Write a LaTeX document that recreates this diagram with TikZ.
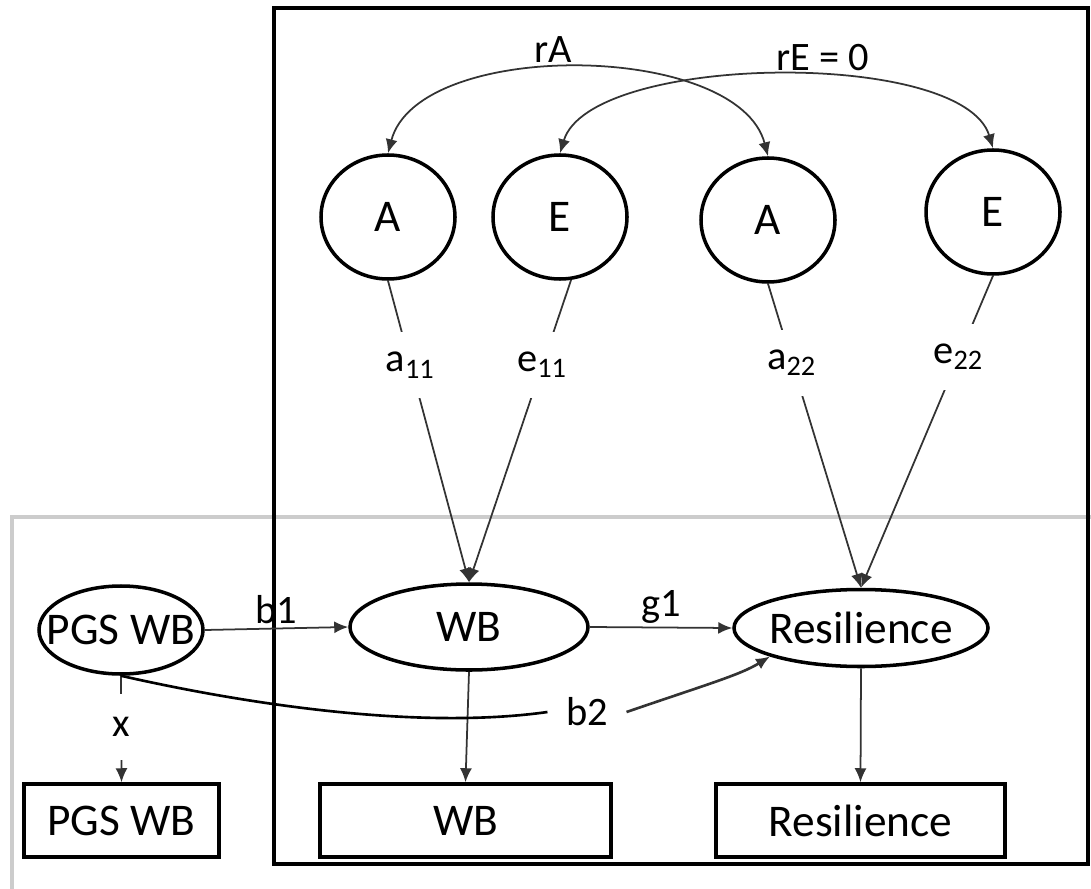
\documentclass[tikz,border=0pt]{standalone}
\usepackage{fontspec}
\setmainfont{Carlito}
\usetikzlibrary{positioning}
\usetikzlibrary{shapes.geometric}
\usetikzlibrary{arrows.meta}

\tikzset{
  latent/.style={draw, ellipse, line width=1pt, inner sep=0pt},
  ace/.style={latent, minimum width=1.34cm, minimum height=1.24cm},
  manifest/.style={draw, rectangle, line width=1pt, minimum height=0.73cm, inner sep=0pt},
  conn/.style={draw=black!80, line width=0.5pt, ->},
  coef/.style={fill=white, inner xsep=1pt, minimum height=6.6mm, font=\fontsize{11.5}{13}\selectfont},
  elab/.style={font=\fontsize{11.5}{13}\selectfont, inner sep=1pt},
}

\begin{document}
\begin{tikzpicture}[>={Latex[length=1.4mm,width=1.2mm]}, font=\fontsize{12.9}{15}\selectfont]
\useasboundingbox (0,0) rectangle (10.91,-8.89);
% frames
\draw[black!20, line width=0.9pt] (0.12,-8.89) -- (0.12,-5.17) -- (10.91,-5.17);
\draw[line width=1pt] (2.74,-0.08) rectangle (10.88,-8.64);

% ACE factors
\node[ace] (A1) at (3.88,-2.17) {A};
\node[ace] (E1) at (5.60,-2.17) {E};
\node[ace] (A2) at (7.68,-2.20) {A};
\node[ace] (E2) at (9.93,-2.12) {E};

% latent variables
\node[latent, minimum width=1.64cm, minimum height=0.88cm] (pgs) at (1.21,-6.30) {\makebox[0pt]{PGS WB}};
\node[latent, minimum width=2.38cm, minimum height=0.86cm] (wb) at (4.69,-6.27) {WB};
\node[latent, minimum width=2.54cm, minimum height=0.77cm] (res) at (8.61,-6.28) {\makebox[0pt]{Resilience}};

% observed
\node[manifest, minimum width=1.95cm] (pgsobs) at (1.215,-8.205) {PGS WB};
\node[manifest, minimum width=2.91cm] (wbobs) at (4.655,-8.205) {WB};
\node[manifest, minimum width=2.89cm] (resobs) at (8.605,-8.205) {Resilience};

% correlations
\draw[conn, <->] (A1.north) .. controls +(0.3,1.15) and +(-0.3,1.15) .. (A2.north);
\draw[conn, <->] (E1.north) .. controls +(0.3,1.0) and +(-0.3,1.0) .. (E2.north);
\node[elab] (rA) at (5.53,-0.50) {rA};
\node[elab] (rE) at (8.23,-0.58) {rE = 0};

% loadings
\draw[conn] (A1.south) -- node[coef, pos=0.28] {a\textsubscript{11}} (wb.north);
\draw[conn] (E1.-80) -- node[coef, pos=0.28] {e\textsubscript{11}} (wb.north);
\draw[conn] (A2.south) -- node[coef, pos=0.26] {a\textsubscript{22}} (res.north);
\draw[conn] (E2.south) -- node[coef, pos=0.26] {e\textsubscript{22}} (res.north);

% paths
\draw[conn] (pgs.east) -- node[elab, above] {b1} (wb.west);
\draw[conn] (wb.east) -- node[elab, above] {g1} (res.west);
\draw[conn] (wb.south) -- (wbobs.north);
\draw[conn] (res.south) -- (resobs.north);
\draw[conn] (pgs.south) -- node[coef, pos=0.48] {x} (pgsobs.north);

\node[elab, inner xsep=1.8mm] (b2) at (5.87,-7.12) {b2};
\draw[line width=0.75pt] (pgs.south) .. controls (2.50,-7.05) and (4.20,-7.30) .. (b2.west);
\draw[conn, line width=0.75pt] (b2.east) .. controls (7.05,-6.85) and (7.40,-6.75) .. (res.south west);
\end{tikzpicture}
\end{document}
